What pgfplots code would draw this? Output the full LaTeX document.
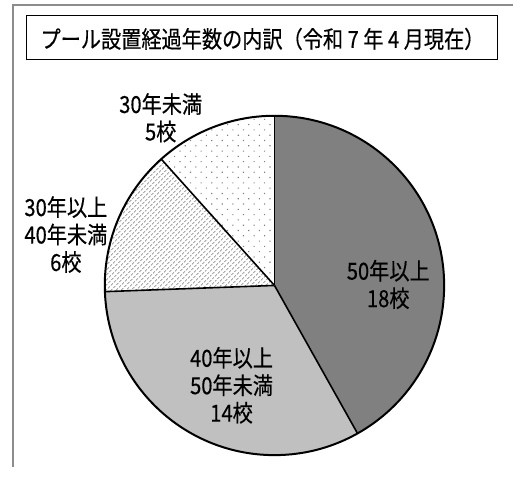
\documentclass[border=0pt]{standalone}
\usepackage{pgfplots}
\pgfplotsset{compat=1.18}
\usepackage{fontspec}
\usetikzlibrary{patterns.meta}
\newfontfamily\jp[FakeStretch=0.86,FakeBold=0.4]{Noto Sans CJK JP}
\definecolor{darkg}{HTML}{808080}
\definecolor{lightg}{HTML}{C0C0C0}
\definecolor{frameg}{HTML}{8C8C8C}
\begin{document}
\begin{tikzpicture}
% values (schools)
\def\vA{18}% 50年以上
\def\vB{14}% 40年以上50年未満
\def\vC{6}%  30年以上40年未満
\def\vD{5}%  30年未満
\pgfmathsetmacro\tot{\vA+\vB+\vC+\vD}
\pgfmathsetmacro\aO{90}
\pgfmathsetmacro\aA{\aO-360*\vA/\tot}
\pgfmathsetmacro\aB{\aA-360*\vB/\tot}
\pgfmathsetmacro\aC{\aB-360*\vC/\tot}
\pgfmathsetmacro\aD{\aC-360*\vD/\tot}
\def\cx{275}\def\cy{182}\def\R{170}
\begin{axis}[x=1bp,y=1bp,xmin=0,xmax=514,ymin=0,ymax=468,hide axis,scale only axis,clip=false,at={(0,0)},anchor=south west]
\addplot[draw=none,forget plot] coordinates {(0,0) (514,468)};
% frame
\draw[frameg,line width=2bp] (axis cs:13,0) -- (axis cs:13,463) -- (axis cs:514,463);
% title
\draw[black,line width=1bp] (axis cs:27,452) rectangle (axis cs:498,408);
\node[font=\jp\fontsize{23.5bp}{27bp}\selectfont,inner sep=0pt] at (axis cs:263,429) {プール設置経過年数の内訳（令和 7 年 4 月現在）};
% sectors
\fill[darkg] (axis cs:\cx,\cy) -- (axis cs:{\cx+\R*cos(\aO)},{\cy+\R*sin(\aO)}) arc[start angle=\aO, end angle=\aA, radius=170bp] -- cycle;
\fill[lightg] (axis cs:\cx,\cy) -- (axis cs:{\cx+\R*cos(\aA)},{\cy+\R*sin(\aA)}) arc[start angle=\aA, end angle=\aB, radius=170bp] -- cycle;
\fill[pattern={Lines[angle=45,distance=3.6bp,line width=0.8bp]},pattern color=gray] (axis cs:\cx,\cy) -- (axis cs:{\cx+\R*cos(\aB)},{\cy+\R*sin(\aB)}) arc[start angle=\aB, end angle=\aC, radius=170bp] -- cycle;
\fill[pattern={Dots[distance=7.5bp,angle=45,radius=0.8bp]},pattern color=gray] (axis cs:\cx,\cy) -- (axis cs:{\cx+\R*cos(\aC)},{\cy+\R*sin(\aC)}) arc[start angle=\aC, end angle=\aD, radius=170bp] -- cycle;
% outlines
\draw[black,line width=1.6bp] (axis cs:\cx,\cy) -- (axis cs:{\cx+\R*cos(\aO)},{\cy+\R*sin(\aO)});
\draw[black,line width=1.6bp] (axis cs:\cx,\cy) -- (axis cs:{\cx+\R*cos(\aA)},{\cy+\R*sin(\aA)});
\draw[black,line width=1.6bp] (axis cs:\cx,\cy) -- (axis cs:{\cx+\R*cos(\aB)},{\cy+\R*sin(\aB)});
\draw[black,line width=1.6bp] (axis cs:\cx,\cy) -- (axis cs:{\cx+\R*cos(\aC)},{\cy+\R*sin(\aC)});
\draw[black,line width=2bp] (axis cs:\cx,\cy) circle[radius=170bp];
% labels
\node[font=\jp\fontsize{23.5bp}{27.5bp}\selectfont,align=center,inner sep=0pt] at (axis cs:389,183) {50年以上\\18校};
\node[font=\jp\fontsize{23.5bp}{27.5bp}\selectfont,align=center,inner sep=0pt] at (axis cs:232,82) {40年以上\\50年未満\\14校};
\node[font=\jp\fontsize{23.5bp}{27.5bp}\selectfont,align=center,inner sep=0pt] at (axis cs:66,233) {30年以上\\40年未満\\6校};
\node[font=\jp\fontsize{23.5bp}{27.5bp}\selectfont,align=center,inner sep=0pt] at (axis cs:161,350) {30年未満\\5校};
\end{axis}
\end{tikzpicture}
\end{document}
